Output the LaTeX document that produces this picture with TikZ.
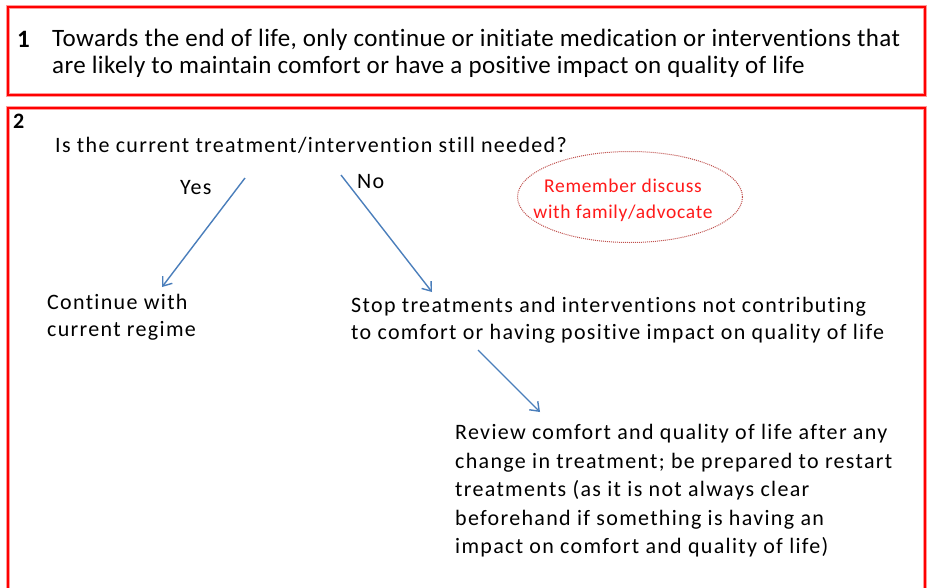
\documentclass[tikz,border=0pt]{standalone}
\usepackage{fontspec}
\setmainfont{Carlito}
\newfontfamily\bodyfont[LetterSpace=6,Ligatures=NoCommon]{Carlito}
\newfontfamily\topfont[LetterSpace=1.6,Ligatures=NoCommon]{Carlito}
\newfontfamily\notefont[LetterSpace=3.5,Ligatures=NoCommon]{Carlito}
\usetikzlibrary{arrows.meta,shapes.geometric}
\definecolor{boxred}{HTML}{FF0000}
\definecolor{halo}{HTML}{FF9A9A}
\definecolor{arrowblue}{HTML}{4A7EBB}
\definecolor{ellred}{HTML}{C0504D}
\definecolor{notered}{HTML}{FF1A1A}
\tikzset{
  frame/.style={draw=boxred,line width=1.6pt},
  framehalo/.style={draw=halo,line width=3.4pt},
  body/.style={inner sep=0pt,font=\bodyfont\fontsize{22}{27}\selectfont,text=black},
  multi/.style={body,align=left,anchor=north west},
  flow/.style={draw=arrowblue,line width=1.4pt,-{Straight Barb[length=8pt,width=12pt,line width=1.4pt]}},
  note/.style={ellipse,draw=ellred,densely dotted,line width=1pt,minimum width=225pt,minimum height=91pt,inner sep=0pt},
  notetext/.style={inner sep=0pt,font=\notefont\fontsize{19.5}{26}\selectfont,text=notered,align=center}
}
\begin{document}
\begin{tikzpicture}[x=1pt,y=-1pt]
\useasboundingbox (0,0) rectangle (927,587);
\clip (0,0) rectangle (927,587);
\fill[white] (0,0) rectangle (927,587);
% box 1
\draw[framehalo] (8,7) rectangle (925,95);
\draw[frame] (8,7) rectangle (925,95);
% box 2
\draw[framehalo] (8,108) rectangle (925,640);
\draw[frame] (8,108) rectangle (925,640);
% labels
\node[body,anchor=base west,font=\topfont\fontsize{25}{27}\bfseries] (n1) at (17,47) {1};
\node[multi,font=\topfont\fontsize{25}{27}\selectfont] (t1) at (52,29) {Towards the end of life, only continue or initiate medication or interventions that\\are likely to maintain comfort or have a positive impact on quality of life};
\node[body,anchor=base west,font=\bodyfont\fontsize{22}{27}\bfseries] (n2) at (13,128) {2};
\node[body,anchor=base west] (q) at (55,152) {Is the current treatment/intervention still needed?};
\node[body,anchor=base west] (yes) at (180,194) {Yes};
\node[body,anchor=base west] (no) at (357,188) {No};
\node[multi] (cont) at (47,294) {Continue with\\current regime};
\node[multi] (stop) at (351,297) {Stop treatments and interventions not contributing\\to comfort or having positive impact on quality of life};
\node[multi,font=\bodyfont\fontsize{22}{28.6}\selectfont] (rev) at (455,424) {Review comfort and quality of life after any\\change in treatment; be prepared to restart\\treatments (as it is not always clear\\beforehand if something is having an\\impact on comfort and quality of life)};
% ellipse note
\node[note] (ell) at (630,197) {};
\node[notetext] (remt) at (623,200) {Remember discuss\\with family/advocate};
% connectors
\coordinate (ys) at (245,178);
\coordinate (ye) at (162,287);
\coordinate (ns) at (341,175);
\coordinate (ne) at (432,292);
\coordinate (ss) at (478,350);
\coordinate (se) at (540,412);
\draw[flow] (ys) -- (ye);
\draw[flow] (ns) -- (ne);
\draw[flow] (ss) -- (se);
\end{tikzpicture}
\end{document}
